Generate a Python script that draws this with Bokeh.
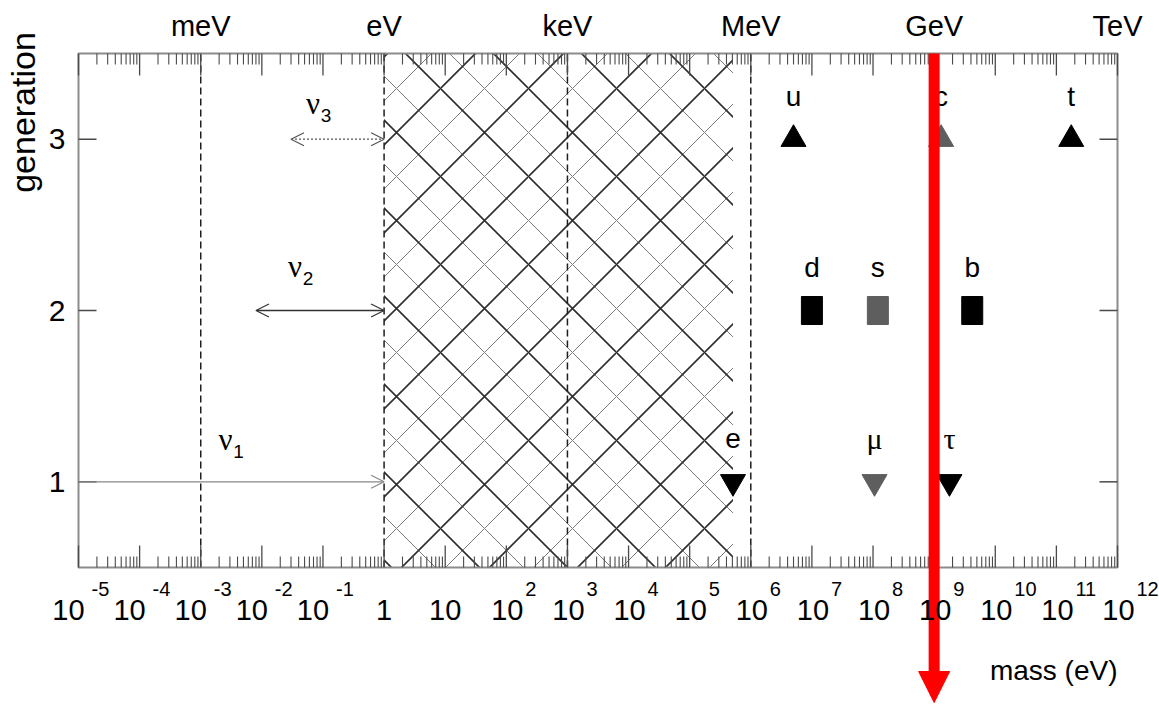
import math
from bokeh.plotting import figure
from bokeh.models import Range1d, Label, Arrow, OpenHead, NormalHead
from bokeh.embed import file_html
from bokeh.resources import INLINE

# ---------------- data ----------------
X_LO, X_HI = 1e-5, 1e12
Y_LO, Y_HI = 0.5, 3.5

decade_exponents = list(range(-5, 13))
generation_ticks = [1, 2, 3]
unit_names = ["meV", "eV", "keV", "MeV", "GeV", "TeV"]
unit_values = [1e-3, 1.0, 1e3, 1e6, 1e9, 1e12]
dashed_at = [1e-3, 1.0, 1e3, 1e6]

up_names = ["u", "c", "t"]
up_masses = [5.0e6, 1.3e9, 1.75e11]
up_colors = ["black", "#5e5e5e", "black"]
up_gen = 3

down_names = ["d", "s", "b"]
down_masses = [1.0e7, 1.2e8, 4.2e9]
down_colors = ["black", "#5e5e5e", "black"]
down_gen = 2

lepton_names = ["e", "\u03bc", "\u03c4"]
lepton_masses = [5.11e5, 1.057e8, 1.777e9]
lepton_colors = ["black", "#5e5e5e", "black"]
lepton_gen = 1

nu_subscripts = ["1", "2", "3"]
nu_gen = [1, 2, 3]
nu_lower = [1e-5, 8e-3, 3e-2]
nu_upper = [1.0, 1.0, 1.0]

hatch_lo, hatch_hi = 1.0, 5.11e5
red_mark = 1e9

# ---------------- layout (pixels) ----------------
W, H = 1159, 704
FRAME_L, FRAME_R, FRAME_T, FRAME_B = 78, 1117, 53, 567
PPD = (FRAME_R - FRAME_L) / (math.log10(X_HI) - math.log10(X_LO))   # px per decade
PXG = (FRAME_B - FRAME_T) / (Y_HI - Y_LO)                             # px per generation

FONT = "Liberation Sans"
GREEK = "Liberation Serif"
FRAME_COLOR = "#8c8c8c"
TICK_COLOR = "#4a4a4a"

x_start = 10 ** (math.log10(X_LO) - FRAME_L / PPD)
x_end = 10 ** (math.log10(X_HI) + (W - FRAME_R) / PPD)
y_start = Y_LO - (H - FRAME_B) / PXG
y_end = Y_HI + FRAME_T / PXG

p = figure(width=W, height=H, x_axis_type="log",
           x_range=Range1d(x_start, x_end), y_range=Range1d(y_start, y_end),
           x_axis_location=None, y_axis_location=None,
           output_backend="svg", toolbar_location=None,
           min_border=0)
p.grid.visible = False
p.background_fill_color = "white"
p.border_fill_color = "white"
p.outline_line_color = None


def label(x, y, text, dx=0, dy=0, size="28px", font=FONT, align="center",
          baseline="middle", angle=0.0, color="black"):
    p.add_layout(Label(x=x, y=y, x_offset=dx, y_offset=dy, text=text,
                       text_font=font, text_font_size=size, text_align=align,
                       text_baseline=baseline, angle=angle, text_color=color))


# ---------------- hatched region ----------------
p.quad(left=[hatch_lo], right=[hatch_hi], bottom=[Y_LO], top=[Y_HI],
       fill_alpha=0, line_alpha=0, hatch_pattern="x", hatch_scale=44,
       hatch_color="#7a7a7a", hatch_weight=1.0)
p.quad(left=[hatch_lo], right=[hatch_hi], bottom=[Y_LO], top=[Y_HI],
       fill_alpha=0, line_alpha=0, hatch_pattern="x", hatch_scale=88,
       hatch_color="#2e2e2e", hatch_weight=1.6)

# ---------------- dashed decade lines ----------------
p.segment(x0=dashed_at, x1=dashed_at, y0=[Y_LO] * len(dashed_at),
          y1=[Y_HI] * len(dashed_at), line_color="#1e1e1e",
          line_width=1.5, line_dash="7 4")

# ---------------- frame and ticks ----------------
p.quad(left=[X_LO], right=[X_HI], bottom=[Y_LO], top=[Y_HI],
       fill_color=None, line_color=FRAME_COLOR, line_width=2)

major_ticks = [10.0 ** k for k in decade_exponents]
minor_ticks = [m * 10.0 ** k for k in decade_exponents[:-1] for m in range(2, 10)]
MAJ, MIN, YT = 22, 11, 18
for ticks, length, lw in ((major_ticks, MAJ, 1.3), (minor_ticks, MIN, 1.1)):
    n = len(ticks)
    p.segment(x0=ticks, x1=ticks, y0=[Y_LO] * n, y1=[Y_LO + length / PXG] * n,
              line_color=TICK_COLOR, line_width=lw)
    p.segment(x0=ticks, x1=ticks, y0=[Y_HI] * n, y1=[Y_HI - length / PXG] * n,
              line_color=TICK_COLOR, line_width=lw)
ng = len(generation_ticks)
p.segment(x0=[X_LO] * ng, x1=[X_LO * 10 ** (YT / PPD)] * ng,
          y0=generation_ticks, y1=generation_ticks, line_color=TICK_COLOR, line_width=1.5)
p.segment(x0=[X_HI] * ng, x1=[X_HI / 10 ** (YT / PPD)] * ng,
          y0=generation_ticks, y1=generation_ticks, line_color=TICK_COLOR, line_width=1.5)

# ---------------- particles ----------------
p.scatter(x=up_masses, y=[up_gen] * 3, marker="triangle", size=25,
          fill_color=up_colors, line_color=up_colors)
p.rect(x=down_masses, y=[down_gen] * 3, width=21, height=28,
       width_units="screen", height_units="screen",
       fill_color=down_colors, line_color=down_colors)
p.scatter(x=lepton_masses, y=[lepton_gen] * 3, marker="inverted_triangle",
          size=25, fill_color=lepton_colors, line_color=lepton_colors)

for names, masses, gen in ((up_names, up_masses, up_gen),
                           (down_names, down_masses, down_gen),
                           (lepton_names, lepton_masses, lepton_gen)):
    for n, m in zip(names, masses):
        greek = n in ("\u03bc", "\u03c4")
        label(m, gen, n, dy=43, size="30px" if greek else "28px",
              font=GREEK if greek else FONT)

# ---------------- neutrino bounds ----------------
nu_styles = [
    dict(line_color="#888888", line_width=1.2, line_dash="solid"),
    dict(line_color="#333333", line_width=1.6, line_dash="solid"),
    dict(line_color="#555555", line_width=1.4, line_dash="2 2"),
]
nu_label_dx = [147, 39, 22]      # px from arrow start to label
nu_label_dy = [42, 44, 36]       # px above the row
for i in range(3):
    st = nu_styles[i]
    head = dict(size=13, line_color=st["line_color"], line_width=1.2)
    start = None if i == 0 else OpenHead(**head)
    p.add_layout(Arrow(start=start, end=OpenHead(**head),
                       x_start=nu_lower[i], y_start=nu_gen[i],
                       x_end=nu_upper[i], y_end=nu_gen[i],
                       line_color=st["line_color"], line_width=st["line_width"],
                       line_dash=st["line_dash"]))
    label(nu_lower[i], nu_gen[i], "\u03bd", dx=nu_label_dx[i], dy=nu_label_dy[i],
          size="31px", font=GREEK)
    label(nu_lower[i], nu_gen[i], nu_subscripts[i], dx=nu_label_dx[i] + 13,
          dy=nu_label_dy[i] - 12, size="19px")

# ---------------- red marker arrow ----------------
p.add_layout(Arrow(end=NormalHead(size=31, fill_color="red", line_color="red",
                                  line_width=1),
                   x_start=red_mark, y_start=Y_HI, x_end=red_mark,
                   y_end=Y_LO - (H - FRAME_B - 2) / PXG,
                   line_color="red", line_width=11))

# ---------------- axis texts ----------------
for name, v in zip(unit_names, unit_values):
    label(v, Y_HI, name, dy=28, size="29px")

for k in decade_exponents:
    x = 10.0 ** k
    if k in (0, 1):
        label(x, Y_LO, "1" if k == 0 else "10", dy=-42, size="29px")
        continue
    dx10 = -10 if k < 0 else 1
    dxe = 13 if k < 0 else 19
    label(x, Y_LO, "10", dx=dx10, dy=-42, size="29px")
    label(x, Y_LO, str(k), dx=dxe, dy=-21, size="20px", align="left")

for g in generation_ticks:
    label(X_LO, g, str(g), dx=-13, size="30px", align="right")

label(X_LO, Y_HI, "generation", dx=-56, dy=-59, size="34px", angle=math.pi / 2)
label(X_HI, Y_LO, "mass (eV)", dy=-103, size="28px", align="right")

open("out.html", "w").write(file_html(p, INLINE))
